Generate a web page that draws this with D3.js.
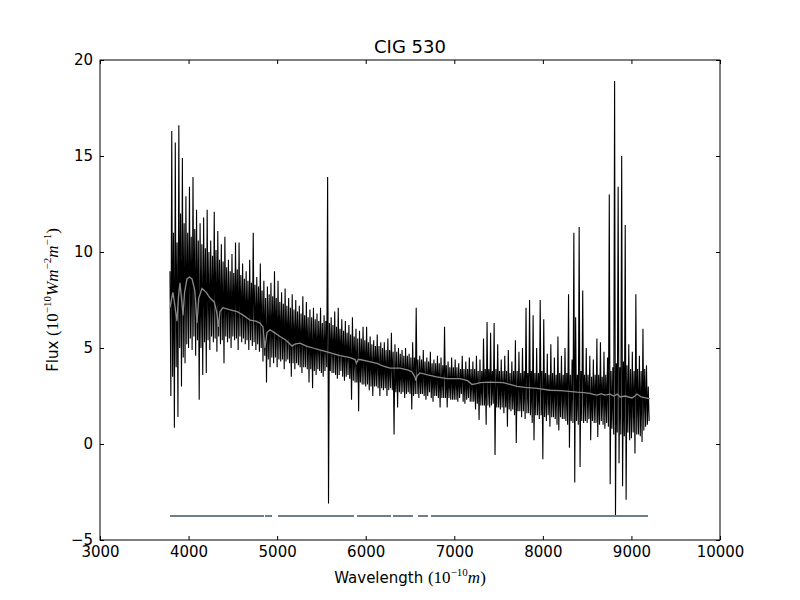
<!DOCTYPE html>
<html lang="en">
<head>
<meta charset="UTF-8">
<title>CIG 530</title>
<script src="https://d3js.org/d3.v7.min.js"></script>
<style>
  body { margin: 0; background: #fff; }
  svg { font-family: "DejaVu Sans", sans-serif; }
  .axis path, .axis line { stroke: #000; }
  .axis text { font-size: 15px; fill: #000; font-family: "DejaVu Sans", sans-serif; }
  .math { font-family: "Liberation Serif", serif; }
</style>
</head>
<body>
<div id="chart"></div>
<script>
  // Observed spectrum, sampled every 10 A from 3790 A (one row = 200 A)
  const waveStart = 3790;
  const waveStep = 10;
  const flux = [
    9.0, 2.5, 16.3, 3.5, 11.0, 0.85, 15.7, 4.0, 10.5, 1.4, 16.6, 5.0, 12.0, 3.0, 14.9, 4.5, 11.5, 4.2, 12.9, 5.2,
    11.0, 5.0, 13.4, 5.5, 10.8, 4.9, 13.9, 5.6, 11.2, 4.6, 12.2, 5.4, 10.6, 2.3, 11.5, 5.0, 10.4, 3.6, 11.8, 5.3,
    10.2, 3.7, 12.2, 5.4, 10.0, 4.9, 10.6, 5.6, 9.8, 5.3, 12.1, 5.5, 10.1, 4.8, 11.1, 5.6, 9.6, 5.2, 10.4, 5.4,
    9.5, 4.2, 10.8, 5.6, 9.2, 5.3, 9.6, 5.5, 9.0, 5.0, 9.9, 5.6, 8.9, 5.4, 10.5, 5.5, 9.1, 4.9, 10.5, 5.6,
    8.8, 5.3, 9.4, 5.5, 8.6, 5.2, 9.0, 5.4, 8.5, 4.9, 9.6, 5.4, 8.4, 5.1, 11.0, 5.3, 8.3, 4.9, 8.7, 5.2,
    8.2, 4.8, 9.4, 5.0, 8.0, 4.3, 8.5, 4.6, 7.6, 3.2, 8.2, 4.4, 7.8, 4.0, 8.4, 4.5, 7.7, 4.2, 9.0, 4.5,
    7.6, 4.0, 8.5, 4.4, 7.4, 4.3, 7.9, 4.4, 7.3, 3.9, 8.1, 4.3, 7.2, 4.4, 7.6, 4.2, 7.1, 3.5, 7.8, 4.2,
    7.0, 3.9, 7.5, 4.2, 6.9, 4.1, 7.2, 4.0, 6.8, 3.7, 7.7, 4.0, 6.7, 4.0, 7.4, 3.9, 6.6, 3.2, 7.0, 3.9,
    6.6, 2.9, 7.1, 3.8, 6.5, 3.6, 6.8, 3.9, 6.4, 3.8, 7.1, 3.7, 6.3, 3.5, 6.7, 3.8, 6.4, 4.0, 13.9, -3.1,
    6.3, 3.8, 6.6, 3.7, 6.2, 3.7, 6.9, 3.6, 6.1, 3.4, 7.1, 3.6, 6.0, 3.8, 6.5, 3.5, 5.9, 3.3, 6.4, 3.5,
    5.8, 3.6, 6.2, 3.4, 5.7, 2.3, 6.6, 3.3, 5.6, 3.2, 6.0, 3.2, 5.5, 1.7, 5.9, 3.2, 5.5, 3.1, 6.1, 3.1,
    5.4, 3.0, 6.1, 3.1, 5.3, 2.8, 5.6, 3.0, 5.2, 2.5, 5.4, 3.0, 5.1, 3.0, 5.7, 2.9, 5.1, 2.5, 5.3, 2.9,
    5.0, 2.8, 5.3, 2.9, 4.9, 2.5, 5.5, 2.8, 4.9, 2.9, 5.8, 2.8, 4.8, 0.5, 5.2, 2.7, 4.8, 1.9, 5.0, 2.7,
    4.7, 2.6, 4.9, 2.7, 4.6, 2.4, 5.0, 2.6, 4.6, 2.7, 4.7, 2.6, 4.5, 1.8, 5.3, 2.5, 4.5, 2.6, 7.1, 2.6,
    4.4, 2.4, 4.6, 2.6, 4.4, 2.6, 4.9, 2.5, 4.3, 2.3, 4.5, 2.5, 4.3, 2.7, 4.8, 2.4, 4.2, 2.2, 4.4, 2.5,
    4.2, 2.5, 4.6, 2.4, 4.2, 1.9, 4.5, 2.4, 4.1, 2.4, 6.1, 2.4, 4.1, 1.9, 4.3, 2.4, 4.0, 2.3, 4.5, 2.3,
    4.0, 2.3, 4.4, 2.3, 4.0, 2.2, 4.2, 2.4, 3.9, 2.6, 4.6, 2.2, 3.9, 2.1, 4.3, 2.3, 3.9, 2.4, 4.5, 2.2,
    3.9, 2.2, 4.3, 2.2, 3.9, 1.8, 4.6, 2.1, 3.8, 1.25, 4.4, 2.0, 3.8, 2.0, 5.5, 2.0, 3.9, 1.0, 6.35, 2.0,
    3.9, 1.9, 5.8, 2.0, 3.8, 2.1, 6.3, -0.57, 3.9, 1.9, 5.2, 1.9, 3.8, 1.8, 4.4, 1.9, 3.8, 1.6, 4.6, 1.9,
    3.8, 0.9, 4.9, 1.8, 3.7, 1.7, 4.3, 1.8, 3.8, 1.5, 5.4, 0.05, 3.8, 1.7, 4.8, 1.7, 3.7, 1.4, 5.0, 1.7,
    3.8, 1.3, 7.1, 1.6, 3.7, 1.6, 7.5, 1.5, 3.8, 1.1, 6.7, 0.2, 3.7, 1.5, 5.0, 1.5, 3.7, 1.3, 7.5, 1.5,
    3.8, -0.8, 6.5, 1.4, 3.7, 1.2, 4.7, 1.5, 3.6, 0.9, 5.2, 1.4, 3.7, 1.4, 4.5, 1.3, 3.6, 1.0, 5.6, 0.7,
    3.7, 1.4, 4.6, 1.3, 3.6, 1.3, 5.0, 1.2, 3.7, 1.0, 7.8, -0.2, 3.6, 1.2, 4.4, 1.1, 11.0, -2.0, 6.6, 1.2,
    3.6, 1.0, 11.3, -1.2, 3.8, 1.2, 8.0, 1.1, 3.6, 1.2, 5.0, 1.1, 3.6, 1.3, 4.6, 0.2, 3.5, 1.2, 4.4, 1.1,
    3.6, 1.1, 5.5, 0.36, 3.6, 1.0, 5.3, 1.2, 3.5, 1.0, 4.8, 0.8, 3.6, 1.1, 4.5, 0.9, 13.0, -2.1, 3.8, 0.8,
    4.0, 0.5, 18.9, -3.8, 4.2, 0.6, 13.4, -1.0, 4.0, 0.5, 15.0, -2.2, 4.3, 0.4, 11.4, -2.9, 4.1, 0.6, 5.2, 0.2,
    3.9, 0.3, 4.8, 0.6, 3.8, -0.5, 7.8, 0.5, 3.9, 0.5, 4.6, 0.4, 3.8, 0.1, 6.0, 0.7, 3.9, 0.9, 4.1, 1.0, 3.0, 1.2
  ];

  // Fitted model (grey line)
  const modelWave = [3790, 3810, 3824, 3845, 3869, 3885, 3903, 3920, 3937, 3955,
    3982, 4010, 4039, 4070, 4095, 4115, 4152, 4200, 4242, 4290,
    4320, 4335, 4355, 4389, 4460, 4547, 4620, 4694, 4760, 4806,
    4840, 4862, 4885, 4919, 4970, 5032, 5100, 5168, 5200, 5258,
    5330, 5405, 5480, 5563, 5640, 5710, 5770, 5823, 5880, 5895,
    5915, 5935, 6030, 6127, 6200, 6274, 6387, 6480, 6522, 6555,
    6565, 6580, 6613, 6700, 6800, 6918, 7064, 7150, 7200, 7250,
    7290, 7400, 7550, 7630, 7708, 7800, 7934, 8081, 8200, 8386,
    8460, 8533, 8570, 8612, 8660, 8700, 8758, 8800, 8840, 8871,
    8930, 9006, 9040, 9063, 9110, 9160, 9210];
  const modelFlux = [7.1, 7.6, 7.9, 7.2, 6.4, 7.6, 8.4, 7.6, 6.7, 7.9,
    8.6, 8.7, 8.6, 8.0, 6.3, 7.6, 8.1, 7.9, 7.6, 7.4,
    6.8, 6.1, 6.9, 7.1, 7.0, 6.9, 6.7, 6.45, 6.4, 6.3,
    6.1, 5.0, 5.8, 5.95, 5.8, 5.6, 5.4, 5.1, 5.2, 5.25,
    5.1, 5.0, 4.9, 4.8, 4.7, 4.6, 4.55, 4.5, 4.4, 4.2,
    4.4, 4.4, 4.3, 4.2, 4.05, 3.95, 3.95, 3.85, 3.75, 3.5,
    3.3, 3.55, 3.7, 3.6, 3.5, 3.4, 3.4, 3.3, 3.1, 3.15,
    3.2, 3.22, 3.2, 3.1, 3.0, 2.95, 2.9, 2.8, 2.78, 2.7,
    2.68, 2.64, 2.58, 2.55, 2.62, 2.55, 2.6, 2.5, 2.6, 2.45,
    2.5, 2.4, 2.5, 2.6, 2.45, 2.4, 2.35];

  // Good-pixel mask segments (drawn at a constant level)
  const maskStart = [3790, 4863, 5010, 5902, 6308, 6590, 6737];
  const maskEnd = [4852, 4942, 5868, 6285, 6534, 6703, 9187];
  const maskLevel = -3.75;

  const xTicks = [3000, 4000, 5000, 6000, 7000, 8000, 9000, 10000];
  const yTicks = [-5, 0, 5, 10, 15, 20];

  const width = 800, height = 600;
  const mLeft = 100, mRight = 720, mTop = 60, mBottom = 540;

  const svg = d3.select("#chart").append("svg")
    .attr("width", width)
    .attr("height", height);

  const x = d3.scaleLinear().domain([3000, 10000]).range([mLeft, mRight]);
  const y = d3.scaleLinear().domain([-5, 20]).range([mBottom, mTop]);

  svg.append("defs").append("clipPath").attr("id", "frame")
    .append("rect")
    .attr("x", mLeft).attr("y", mTop)
    .attr("width", mRight - mLeft).attr("height", mBottom - mTop);

  const plot = svg.append("g").attr("clip-path", "url(#frame)");

  const line = d3.line().x(d => x(d[0])).y(d => y(d[1]));

  // spectrum
  const specData = flux.map((v, i) => [waveStart + i * waveStep, v]);
  plot.append("path")
    .datum(specData)
    .attr("d", line)
    .attr("fill", "none")
    .attr("stroke", "#000")
    .attr("stroke-width", 1.1)
    .attr("stroke-linejoin", "bevel");

  // model
  plot.append("path")
    .datum(modelWave.map((w, i) => [w, modelFlux[i]]))
    .attr("d", line)
    .attr("fill", "none")
    .attr("stroke", "#8a8a8a")
    .attr("stroke-width", 1.3);

  // mask
  plot.selectAll(".mask")
    .data(maskStart.map((s, i) => [s, maskEnd[i]]))
    .enter()
    .append("line")
    .attr("class", "mask")
    .attr("x1", d => x(d[0]))
    .attr("x2", d => x(d[1]))
    .attr("y1", y(maskLevel))
    .attr("y2", y(maskLevel))
    .attr("stroke", "#6f7f87")
    .attr("stroke-width", 2);

  // axes, ticks pointing inward on all four sides
  const fmt = d3.format("d");
  svg.append("g").attr("class", "axis")
    .attr("transform", `translate(0,${mBottom})`)
    .call(d3.axisBottom(x).tickValues(xTicks).tickFormat(fmt).tickSizeInner(-4).tickSizeOuter(0).tickPadding(6));
  svg.append("g").attr("class", "axis")
    .attr("transform", `translate(0,${mTop})`)
    .call(d3.axisTop(x).tickValues(xTicks).tickFormat("").tickSizeInner(-4).tickSizeOuter(0));
  svg.append("g").attr("class", "axis")
    .attr("transform", `translate(${mLeft},0)`)
    .call(d3.axisLeft(y).tickValues(yTicks).tickFormat(fmt).tickSizeInner(-4).tickSizeOuter(0).tickPadding(7));
  svg.append("g").attr("class", "axis")
    .attr("transform", `translate(${mRight},0)`)
    .call(d3.axisRight(y).tickValues(yTicks).tickFormat("").tickSizeInner(-4).tickSizeOuter(0));
  svg.selectAll(".axis .domain").remove();

  svg.append("rect")
    .attr("x", mLeft).attr("y", mTop)
    .attr("width", mRight - mLeft).attr("height", mBottom - mTop)
    .attr("fill", "none")
    .attr("stroke", "#000")
    .attr("stroke-width", 1);

  // title
  svg.append("text")
    .attr("x", (mLeft + mRight) / 2)
    .attr("y", 53)
    .attr("text-anchor", "middle")
    .style("font-size", "18px")
    .text("CIG 530");

  // x label: Wavelength (10^-10 m)
  const xl = svg.append("text")
    .attr("x", (mLeft + mRight) / 2)
    .attr("y", 583)
    .attr("text-anchor", "middle")
    .style("font-size", "15px");
  xl.append("tspan").text("Wavelength ");
  xl.append("tspan").attr("class", "math").style("font-size", "17px").text("(10");
  xl.append("tspan").attr("class", "math").style("font-size", "11px").attr("dy", -7).text("−10");
  xl.append("tspan").attr("class", "math").style("font-size", "17px").style("font-style", "italic").attr("dy", 7).text("m");
  xl.append("tspan").attr("class", "math").style("font-size", "17px").text(")");

  // y label: Flux (10^-10 W m^-2 m^-1)
  const yl = svg.append("text")
    .attr("transform", `translate(58,${(mTop + mBottom) / 2}) rotate(-90)`)
    .attr("text-anchor", "middle")
    .style("font-size", "15px");
  yl.append("tspan").text("Flux ");
  yl.append("tspan").attr("class", "math").style("font-size", "17px").text("(10");
  yl.append("tspan").attr("class", "math").style("font-size", "11px").attr("dy", -7).text("−10");
  yl.append("tspan").attr("class", "math").style("font-size", "17px").style("font-style", "italic").attr("dy", 7).text("Wm");
  yl.append("tspan").attr("class", "math").style("font-size", "11px").attr("dy", -7).text("−2");
  yl.append("tspan").attr("class", "math").style("font-size", "17px").style("font-style", "italic").attr("dy", 7).text("m");
  yl.append("tspan").attr("class", "math").style("font-size", "11px").attr("dy", -7).text("−1");
  yl.append("tspan").attr("class", "math").style("font-size", "17px").attr("dy", 7).text(")");
</script>
</body>
</html>
